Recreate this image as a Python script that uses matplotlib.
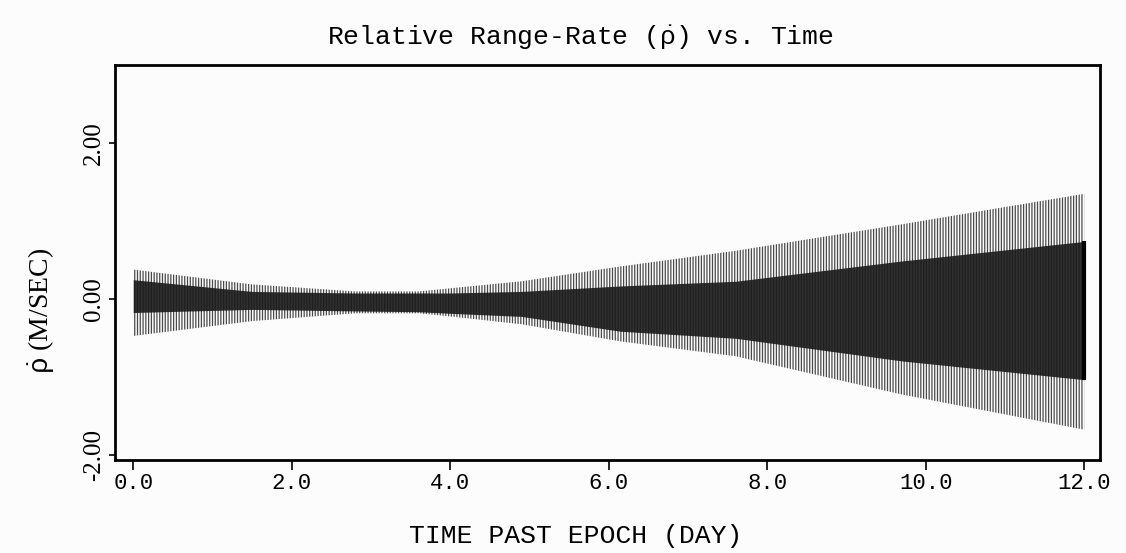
import matplotlib.pyplot as plt

# envelope of the range-rate oscillation, read per day
time_day = [0.0, 1.5, 2.8, 3.6, 4.0, 4.9, 6.15, 7.6, 9.7, 12.0]
outer_hi = [0.38, 0.19, 0.10, 0.10, 0.14, 0.23, 0.42, 0.62, 0.96, 1.35]
outer_lo = [-0.47, -0.28, -0.18, -0.18, -0.22, -0.32, -0.54, -0.73, -1.22, -1.67]
inner_hi = [0.25, 0.10, 0.08, 0.08, 0.08, 0.10, 0.17, 0.23, 0.49, 0.74]
inner_lo = [-0.17, -0.13, -0.15, -0.16, -0.18, -0.22, -0.41, -0.50, -0.79, -1.03]

x_ticks = [0.0, 2.0, 4.0, 6.0, 8.0, 10.0, 12.0]
y_ticks = [-2.0, 0.0, 2.0]

plt.rcParams['mathtext.fontset'] = 'custom'
plt.rcParams['mathtext.rm'] = 'Liberation Mono'
plt.rcParams['mathtext.it'] = 'Liberation Mono'
plt.rcParams['hatch.linewidth'] = 0.9

mono = 'Liberation Mono'

fig = plt.figure(figsize=(11.26, 5.53), dpi=100, facecolor='#fcfcfc')
ax = fig.add_axes([0.1021, 0.168, 0.8748, 0.7145])
ax.set_facecolor('#fcfcfc')

# outer band: individual oscillation strokes (hatched)
ax.fill_between(time_day, outer_lo, outer_hi, facecolor='none',
                edgecolor='#4a4a4a', hatch='||||||', linewidth=0)
# inner band: dense overlapping strokes
ax.fill_between(time_day, inner_lo, inner_hi, color='#1a1a1a', alpha=0.9,
                linewidth=0)
ax.vlines(time_day[-1], inner_lo[-1], inner_hi[-1], color='black', linewidth=3)

ax.set_xlim(-0.23, 12.2)
ax.set_ylim(-2.06, 3.0)

ax.set_xticks(x_ticks)
ax.set_xticklabels([f'{v:.1f}' for v in x_ticks], fontfamily=mono, fontsize=16)
ax.set_yticks(y_ticks)
ax.set_yticklabels([f'{v:.2f}' for v in y_ticks], fontfamily='Liberation Serif',
                   fontsize=18, rotation=90, va='center')

ax.tick_params(axis='x', direction='out', length=7, width=1.2, pad=2)
ax.tick_params(axis='y', direction='out', length=4, width=1.2, pad=3)
for s in ax.spines.values():
    s.set_linewidth(2.0)

fig.text(580 / 1126, 1 - 37 / 553, r'Relative Range-Rate ($\dot{\rho}$) vs. Time',
         fontfamily=mono, fontsize=19, ha='center', va='center')
fig.text(576 / 1126, 1 - 536 / 553, 'TIME PAST EPOCH (DAY)',
         fontfamily=mono, fontsize=19, ha='center', va='center')
fig.text(42 / 1126, 1 - 311 / 553, r'$\dot{\rho}$ (M/SEC)',
         fontfamily='Liberation Serif', fontsize=20, rotation=90,
         ha='center', va='center')

fig.savefig('out.png', dpi=100, facecolor=fig.get_facecolor())
